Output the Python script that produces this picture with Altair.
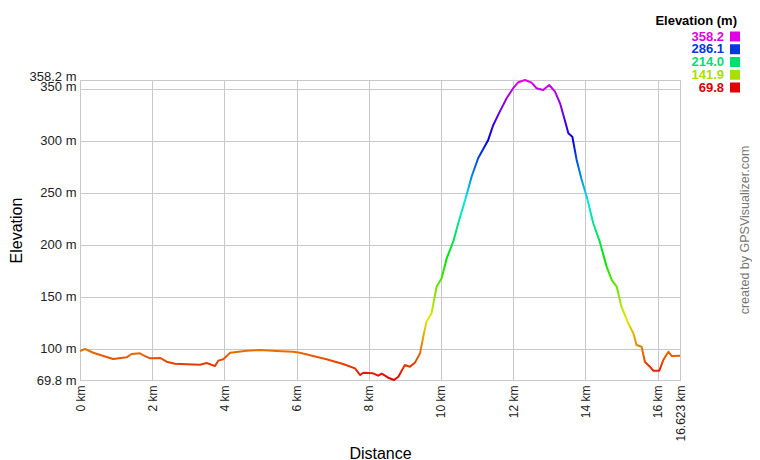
import altair as alt
import pandas as pd
import colorsys

FONT = "Liberation Sans"

# Track profile (distance in km, elevation in m)
dist_km = [0.00, 0.14, 0.37, 0.65, 0.92, 1.29, 1.43, 1.66, 1.73, 1.94,
           2.22, 2.40, 2.63, 3.32, 3.51, 3.74, 3.83, 3.97, 4.16, 4.62,
           4.99, 5.45, 5.91, 6.09, 6.46, 6.83, 7.29, 7.62, 7.76, 7.85,
           8.12, 8.26, 8.36, 8.54, 8.70, 8.82, 9.00, 9.14, 9.28, 9.42,
           9.51, 9.60, 9.74, 9.88, 10.02, 10.16, 10.34, 10.48, 10.71, 10.85,
           11.03, 11.31, 11.45, 11.63, 11.82, 12.00, 12.14, 12.33, 12.51, 12.65,
           12.83, 13.00, 13.16, 13.30, 13.43, 13.53, 13.64, 13.76, 13.90, 14.04,
           14.22, 14.40, 14.59, 14.73, 14.87, 15.00, 15.19, 15.33, 15.42, 15.56,
           15.65, 15.79, 15.88, 16.05, 16.16, 16.30, 16.39, 16.623]
elev_m = [97.7, 99.6, 96.0, 92.9, 90.0, 91.6, 94.8, 95.5, 94.0, 90.6,
          91.0, 87.4, 85.5, 84.5, 86.1, 83.3, 88.4, 89.7, 96.0, 98.0,
          98.6, 97.7, 97.0, 96.0, 92.9, 89.7, 85.2, 81.0, 74.6, 76.8,
          76.2, 74.0, 76.0, 72.0, 69.8, 73.0, 84.2, 82.6, 86.5, 95.4,
          111.4, 125.9, 134.0, 159.5, 167.6, 186.8, 202.8, 220.5, 247.7, 265.3,
          283.0, 300.6, 315.0, 327.8, 340.7, 350.3, 356.0, 358.2, 355.7, 350.3,
          348.6, 353.4, 347.0, 335.8, 319.8, 307.0, 303.7, 281.3, 262.0, 246.0,
          220.5, 202.8, 178.8, 166.0, 159.5, 140.3, 124.3, 114.7, 103.5, 101.8,
          87.4, 82.6, 78.8, 78.8, 89.0, 97.0, 92.9, 93.0]

legend_values = [358.2, 286.1, 214.0, 141.9, 69.8]
legend_labels = ["358.2", "286.1", "214.0", "141.9", "69.8"]
legend_colors = ["#e000e0", "#0038e0", "#00e070", "#a8e000", "#e00000"]

x_ticks = [0, 2, 4, 6, 8, 10, 12, 14, 16, 16.623]
y_ticks = [69.8, 100, 150, 200, 250, 300, 350, 358.2]

df = pd.DataFrame({"d": dist_km, "e": elev_m})
leg = pd.DataFrame({"v": legend_values, "lab": legend_labels})

# elevation colouring: hue red -> magenta from bottom to top
stops = []
for i in range(21):
    r, g, b = colorsys.hsv_to_rgb(i * 15 / 360, 1, 0.9)
    stops.append(alt.GradientStop(color="#%02x%02x%02x" % (round(r * 255), round(g * 255), round(b * 255)),
                                  offset=i / 20))
grad = alt.LinearGradient(gradient="linear", stops=stops, x1=0, x2=0, y1=1, y2=0)

x = alt.X("d:Q", scale=alt.Scale(domain=[0, 16.623], nice=False, zero=False),
          axis=alt.Axis(values=x_ticks, labelExpr="datum.value + ' km'", labelAngle=270,
                        labelFontSize=12, labelPadding=5, labelColor="#222", labelFont=FONT,
                        labelOverlap=False, labelFlush=False,
                        title="Distance", titleFontSize=16, titleFontWeight="normal", titleFont=FONT,
                        titleColor="#000", titleX=300, titleY=78, titleBaseline="alphabetic",
                        titleAlign="center",
                        ticks=False, domain=False, grid=True, gridColor="#c8c8c8"))
y = alt.Y("e:Q", scale=alt.Scale(domain=[69.8, 358.2], nice=False, zero=False),
          axis=alt.Axis(values=y_ticks, labelExpr="datum.value + ' m'",
                        labelFontSize=13, labelPadding=4, labelColor="#222", labelFont=FONT,
                        labelOverlap=False, labelFlush=False,
                        labelOffset={"condition": [{"test": "datum.value > 355", "value": -4},
                                                   {"test": "datum.value == 350", "value": -2}],
                                     "value": 0},
                        title="Elevation", titleFontSize=16, titleFontWeight="normal", titleFont=FONT,
                        titleColor="#000", titleX=-59, titleY=150, titleAngle=270,
                        titleBaseline="alphabetic", titleAlign="center",
                        ticks=False, domain=False, grid=True, gridColor="#c8c8c8"))

line = alt.Chart(df).mark_line(stroke=grad, strokeWidth=2, strokeJoin="round").encode(x=x, y=y)

ly = alt.Y("v:Q", scale=alt.Scale(domain=[69.8, 358.2], range=[7.5, -43.5]), axis=None)
lc = alt.Color("lab:N", scale=alt.Scale(domain=legend_labels, range=legend_colors), legend=None)

leg_text = alt.Chart(leg).mark_text(align="right", baseline="middle", fontSize=13,
                                    fontWeight="bold", font=FONT).encode(
    x=alt.value(644), y=ly, text="lab:N", color=lc)
leg_sq = alt.Chart(leg).mark_square(size=100, opacity=1).encode(x=alt.value(655), y=ly, color=lc)

leg_title = alt.Chart(pd.DataFrame({"t": ["Elevation (m)"]})).mark_text(
    align="right", baseline="middle", fontSize=13, fontWeight="bold", font=FONT, color="#000"
).encode(x=alt.value(657), y=alt.value(-59), text="t:N")

credit = alt.Chart(pd.DataFrame({"t": ["created by GPSVisualizer.com"]})).mark_text(
    angle=270, align="center", baseline="middle", fontSize=12.5, font=FONT, color="#777"
).encode(x=alt.value(665), y=alt.value(150), text="t:N")

chart = alt.layer(line, leg_text, leg_sq, leg_title, credit).resolve_scale(
    y="independent"
).properties(
    width=600, height=300,
    autosize=alt.AutoSizeParams(type="none"),
    padding={"left": 72, "top": 72, "right": 72, "bottom": 80},
).configure_view(stroke="#c0c0c0", strokeWidth=1)

chart.save("out.html", embed_options={"renderer": "svg", "actions": False})
